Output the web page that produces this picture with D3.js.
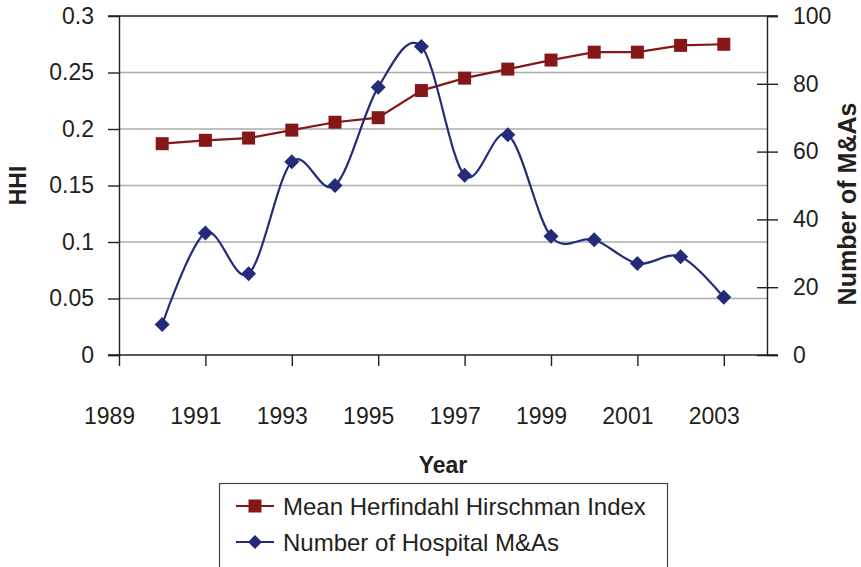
<!DOCTYPE html>
<html>
<head>
<meta charset="utf-8">
<script src="https://cdn.jsdelivr.net/npm/d3@7"></script>
<style>
  html, body { margin: 0; padding: 0; background: #fff; }
  svg { display: block; font-family: "Liberation Sans", Arial, Helvetica, sans-serif; }
</style>
</head>
<body>
<svg id="chart" width="861" height="567"></svg>
<script>
// Years covered by both series
const years = [1990, 1991, 1992, 1993, 1994, 1995, 1996, 1997, 1998, 1999, 2000, 2001, 2002, 2003];
// Mean Herfindahl Hirschman Index (left axis)
const hhi = [0.187, 0.190, 0.192, 0.199, 0.206, 0.210, 0.234, 0.245, 0.253, 0.261, 0.268, 0.268, 0.274, 0.275];
// Number of hospital mergers & acquisitions (right axis)
const mergers = [9, 36, 24, 57, 50, 79, 91, 53, 65, 35, 34, 27, 29, 17];
// Axis ticks
const xTicks = [1989, 1991, 1993, 1995, 1997, 1999, 2001, 2003];
const leftTicks = [0, 0.05, 0.1, 0.15, 0.2, 0.25, 0.3];
const rightTicks = [0, 20, 40, 60, 80, 100];
const seriesNames = ["Mean Herfindahl Hirschman Index", "Number of Hospital M&As"];

const red = "#861719";
const blue = "#232b7a";
const axisColor = "#231f20";
const gridColor = "#ababab";

const svg = d3.select("#chart");
const plot = { left: 119, right: 767, top: 16, bottom: 355 };

const x = d3.scaleLinear().domain([1989, 2004]).range([plot.left, plot.right]);
const yL = d3.scaleLinear().domain([0, 0.3]).range([plot.bottom, plot.top]);
const yR = d3.scaleLinear().domain([0, 100]).range([plot.bottom, plot.top]);

// Horizontal gridlines
svg.append("g").selectAll("line")
  .data(leftTicks.filter(t => t > 0 && t < 0.3))
  .join("line")
  .attr("x1", plot.left).attr("x2", plot.right)
  .attr("y1", d => yL(d)).attr("y2", d => yL(d))
  .attr("stroke", gridColor).attr("stroke-width", 1.6);

// Top border line
svg.append("line")
  .attr("x1", plot.left - 11).attr("x2", plot.right + 11)
  .attr("y1", yL(0.3)).attr("y2", yL(0.3))
  .attr("stroke", axisColor).attr("stroke-width", 1.4);

const fmtL = d => String(+d.toFixed(2));

// Left axis
const gL = svg.append("g").attr("transform", `translate(${plot.left},0)`)
  .call(d3.axisLeft(yL).tickValues(leftTicks).tickFormat(fmtL).tickSize(11).tickPadding(14));
// Right axis (ticks cross the axis line)
const gR = svg.append("g").attr("transform", `translate(${plot.right},0)`)
  .call(d3.axisRight(yR).tickValues(rightTicks).tickSize(11).tickPadding(15));
gR.selectAll(".tick line").attr("x1", -10);
// Bottom axis
const gB = svg.append("g").attr("transform", `translate(0,${plot.bottom})`)
  .call(d3.axisBottom(x).tickValues(xTicks).tickFormat(d3.format("d")).tickSize(11).tickPadding(42));
gB.select(".domain").attr("d", `M${plot.left - 11},0H${plot.right + 11}`);

[gL, gR, gB].forEach(g => {
  g.select(".domain").attr("stroke", axisColor).attr("stroke-width", 1.4);
  g.selectAll(".tick line").attr("stroke", axisColor).attr("stroke-width", 1.4);
  g.selectAll(".tick text").attr("fill", "#231f20").style("font-size", "23px")
    .style("font-family", '"Liberation Sans", Arial, sans-serif');
});
gL.select(".tick:last-of-type line").remove();
gR.select(".tick:last-of-type line").attr("x1", 0);
gB.selectAll(".tick text").attr("dx", -10);

// Axis titles
svg.append("text")
  .attr("transform", `translate(26,${(plot.top + plot.bottom) / 2}) rotate(-90)`)
  .attr("text-anchor", "middle").attr("font-weight", "bold").attr("font-size", 23)
  .attr("fill", "#231f20").text("HHI");
svg.append("text")
  .attr("transform", `translate(856,204) rotate(-90)`)
  .attr("text-anchor", "middle").attr("font-weight", "bold").attr("font-size", 25)
  .attr("fill", "#231f20").text("Number of M&As");
svg.append("text")
  .attr("x", (plot.left + plot.right) / 2).attr("y", 473)
  .attr("text-anchor", "middle").attr("font-weight", "bold").attr("font-size", 23)
  .attr("fill", "#231f20").text("Year");

// HHI series: straight segments with square markers
const hhiData = years.map((y, i) => [y, hhi[i]]);
svg.append("path")
  .attr("d", d3.line().x(d => x(d[0])).y(d => yL(d[1]))(hhiData))
  .attr("fill", "none").attr("stroke", red).attr("stroke-width", 2.2);
const sq = 13;
svg.append("g").selectAll("rect").data(hhiData).join("rect")
  .attr("x", d => x(d[0]) - sq / 2).attr("y", d => yL(d[1]) - sq / 2)
  .attr("width", sq).attr("height", sq).attr("fill", red);

// M&A series: smoothed line with diamond markers
const maData = years.map((y, i) => [y, mergers[i]]);
svg.append("path")
  .attr("d", d3.line().curve(d3.curveCardinal.tension(0)).x(d => x(d[0])).y(d => yR(d[1]))(maData))
  .attr("fill", "none").attr("stroke", blue).attr("stroke-width", 2.2);
const diamond = r => `M0,${-r}L${r},0L0,${r}L${-r},0Z`;
svg.append("g").selectAll("path").data(maData).join("path")
  .attr("transform", d => `translate(${x(d[0])},${yR(d[1])})`)
  .attr("d", diamond(7.5)).attr("fill", blue);

// Legend
const legend = svg.append("g");
legend.append("rect")
  .attr("x", 219.5).attr("y", 483.5).attr("width", 448).attr("height", 100)
  .attr("fill", "#fff").attr("stroke", "#444").attr("stroke-width", 1.2);
const rows = [
  { name: seriesNames[0], color: red, y: 506, marker: "square" },
  { name: seriesNames[1], color: blue, y: 542, marker: "diamond" }
];
rows.forEach(r => {
  legend.append("line").attr("x1", 236).attr("x2", 274).attr("y1", r.y).attr("y2", r.y)
    .attr("stroke", r.color).attr("stroke-width", 2.2);
  if (r.marker === "square") {
    legend.append("rect").attr("x", 255 - 6.5).attr("y", r.y - 6.5).attr("width", 13).attr("height", 13)
      .attr("fill", r.color);
  } else {
    legend.append("path").attr("transform", `translate(255,${r.y})`).attr("d", diamond(7)).attr("fill", r.color);
  }
  legend.append("text").attr("x", 283).attr("y", r.y + 9)
    .attr("font-size", 24).attr("fill", "#231f20").text(r.name);
});
</script>
</body>
</html>
